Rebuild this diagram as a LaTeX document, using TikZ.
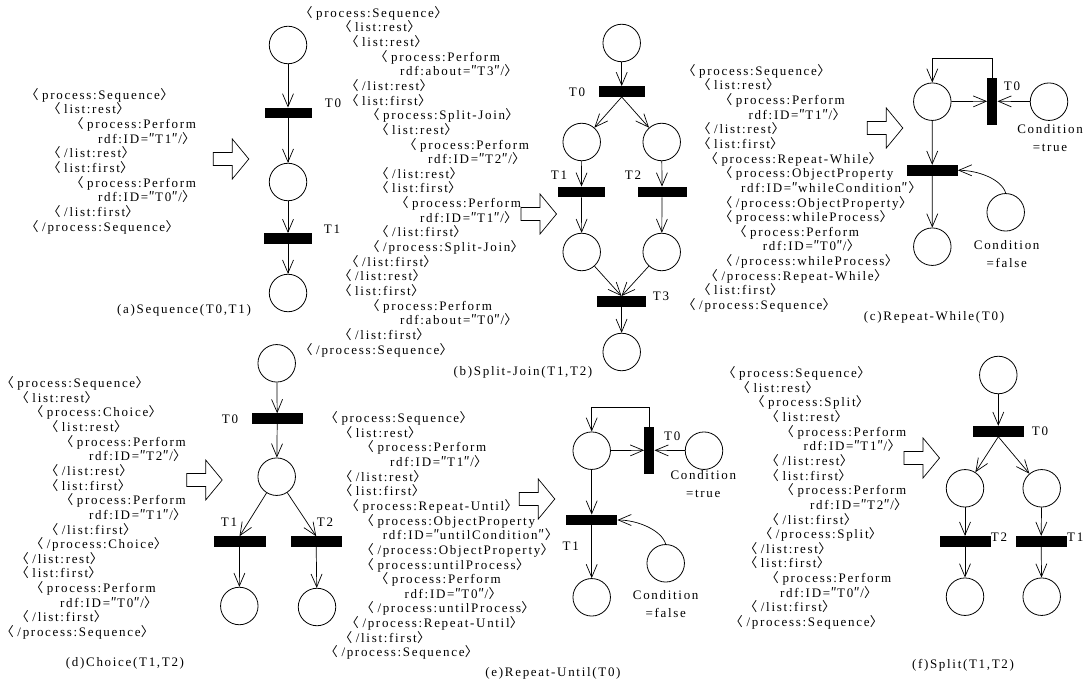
\documentclass[tikz,border=0pt]{standalone}
\usepackage{fontspec}
\setmainfont{Liberation Serif}[LetterSpace=13]
\newfontfamily\cjk{Noto Sans CJK SC}
\usetikzlibrary{arrows.meta}
\newcommand\xlt{\makebox[9pt][l]{\cjk\kern-\XeTeXglyphbounds1 \XeTeXcharglyph"3008\relax 〈}}
\newcommand\xgt{\makebox[8pt][l]{\cjk\kern-\XeTeXglyphbounds1 \XeTeXcharglyph"3009\relax\kern1pt 〉}}
\newcommand\qq{\makebox[7pt][c]{\cjk ″}}
\newcommand\ind[1]{\hspace*{#1pt}}
\newcommand\codefont{\fontsize{13}{14.65}\selectfont}
\newcommand\hollow[2]{\draw[line width=0.7pt] (#1,#2-6.5) -- ++(19,0) -- ++(0,-13.5) -- ++(16.5,20) -- ++(-16.5,20) -- ++(0,-13.5) -- ++(-19,0) -- cycle;}
\begin{document}
\begin{tikzpicture}[x=1pt,y=-1pt,
  plc/.style={circle,draw,line width=0.8pt,minimum size=37.5pt,inner sep=0pt},
  trn/.style={rectangle,fill=black,draw=none,minimum width=50pt,minimum height=10.5pt,inner sep=0pt},
  vtrn/.style={rectangle,fill=black,draw=none,minimum width=10pt,minimum height=47pt,inner sep=0pt},
  flow/.style={-{Straight Barb[length=13pt,width=11pt]},line width=0.7pt},
  lbl/.style={font=\codefont,inner sep=0pt},
  cond/.style={font=\fontsize{13}{18}\selectfont,inner sep=0pt,align=center},
  code/.style={font=\codefont,inner sep=0pt,align=left,anchor=north west}]
\useasboundingbox[fill=white] (0,0) rectangle (1084,684);

% ---------------- (a) ----------------
\node[code] (atext) at (33,88) {\xlt process:Sequence\xgt\\
\ind{22}\xlt list:rest\xgt\\
\ind{45}\xlt process:Perform\\
\ind{65}rdf:ID=\qq T1\qq/\xgt\\
\ind{22}\xlt/list:rest\xgt\\
\ind{22}\xlt list:first\xgt\\
\ind{45}\xlt process:Perform\\
\ind{65}rdf:ID=\qq T0\qq/\xgt\\
\ind{22}\xlt/list:first\xgt\\
\xlt/process:Sequence\xgt};
\hollow{213.3}{159}
\node[plc] (a1) at (288,45) {};
\node[trn,minimum width=47pt] (aT0) at (288,113) {};
\node[plc] (a2) at (288,182) {};
\node[trn,minimum width=48pt] (aT1) at (288,238.5) {};
\node[plc] (a3) at (288,293) {};
\draw[flow] (a1) -- (aT0.north);
\draw[flow] (aT0.south) -- (a2);
\draw[flow] (a2) -- (aT1.north);
\draw[flow] (aT1.south) -- (a3);
\node[lbl] (aL0) at (333,103) {T0};
\node[lbl] (aL1) at (332,229) {T1};
\node[lbl] (acap) at (184,310) {(a)Sequence(T0,T1)};

% ---------------- (b) ----------------
\node[code] (btext) at (307,6) {\xlt process:Sequence\xgt\\
\ind{39}\xlt list:rest\xgt\\
\ind{46}\xlt list:rest\xgt\\
\ind{75}\xlt process:Perform\\
\ind{93}rdf:about=\qq T3\qq/\xgt\\
\ind{46}\xlt/list:rest\xgt\\
\ind{46}\xlt list:first\xgt\\
\ind{67}\xlt process:Split-Join\xgt\\
\ind{76}\xlt list:rest\xgt\\
\ind{104}\xlt process:Perform\\
\ind{121}rdf:ID=\qq T2\qq/\xgt\\
\ind{76}\xlt/list:rest\xgt\\
\ind{76}\xlt list:first\xgt\\
\ind{96}\xlt process:Perform\\
\ind{113}rdf:ID=\qq T1\qq/\xgt\\
\ind{76}\xlt/list:first\xgt\\
\ind{67}\xlt/process:Split-Join\xgt\\
\ind{46}\xlt/list:first\xgt\\
\ind{39}\xlt/list:rest\xgt\\
\ind{39}\xlt list:first\xgt\\
\ind{67}\xlt process:Perform\\
\ind{93}rdf:about=\qq T0\qq/\xgt\\
\ind{39}\xlt/list:first\xgt\\
\xlt/process:Sequence\xgt};
\hollow{521}{214}
\node[plc] (b1) at (621.7,43) {};
\node[trn,minimum width=46pt] (bT0) at (621.7,91.5) {};
\node[plc] (b2) at (581.7,142) {};
\node[plc] (b3) at (661.7,142) {};
\node[trn,minimum width=47pt] (bT1) at (581.5,192) {};
\node[trn,minimum width=49pt] (bT2) at (662,192) {};
\node[plc] (b4) at (581.7,252) {};
\node[plc] (b5) at (661.7,252) {};
\node[trn,minimum width=49pt] (bT3) at (621.5,301.5) {};
\node[plc] (b6) at (621.7,352) {};
\draw[flow] (b1) -- (bT0.north);
\draw[flow] (bT0.south) -- (b2);
\draw[flow] (bT0.south) -- (b3);
\draw[flow] (b2) -- (bT1.north);
\draw[flow] (b3) -- (bT2.north);
\draw[flow] (bT1.south) -- (b4);
\draw[flow] (bT2.south) -- (b5);
\draw[flow] (b4) -- (bT3.north);
\draw[flow] (b5) -- (bT3.north);
\draw[flow] (bT3.south) -- (b6);
\node[lbl] (bL0) at (577,92) {T0};
\node[lbl] (bL1) at (559,175) {T1};
\node[lbl] (bL2) at (633,175) {T2};
\node[lbl] (bL3) at (661,296) {T3};
\node[lbl] (bcap) at (523,372) {(b)Split-Join(T1,T2)};

% ---------------- (c) ----------------
\node[code] (ctext) at (690,64) {\xlt process:Sequence\xgt\\
\ind{15}\xlt list:rest\xgt\\
\ind{36.7}\xlt process:Perform\\
\ind{58.3}rdf:ID=\qq T1\qq/\xgt\\
\ind{15}\xlt/list:rest\xgt\\
\ind{15}\xlt list:first\xgt\\
\ind{22.3}\xlt process:Repeat-While\xgt\\
\ind{36.7}\xlt process:ObjectProperty\\
\ind{51}rdf:ID=\qq whileCondition\qq\xgt\\
\ind{36.7}\xlt/process:ObjectProperty\xgt\\
\ind{36.7}\xlt process:whileProcess\xgt\\
\ind{51}\xlt process:Perform\\
\ind{72.7}rdf:ID=\qq T0\qq/\xgt\\
\ind{36.7}\xlt/process:whileProcess\xgt\\
\ind{22.3}\xlt/process:Repeat-While\xgt\\
\ind{15}\xlt list:first\xgt\\
\xlt/process:Sequence\xgt};
\hollow{867.3}{128}
\node[plc] (cP) at (932.3,101.7) {};
\node[vtrn] (cT0) at (992.3,101.3) {};
\node[plc] (cC1) at (1049,101.7) {};
\node[trn,minimum width=51pt] (cTu) at (932.2,170.3) {};
\node[plc] (cC2) at (1005.7,212.3) {};
\node[plc] (cP2) at (932.3,246.7) {};
\draw[flow] (cT0.north) -- ++(0,-19.4) -| (cP.north);
\draw[flow] (cP) -- (cT0.west);
\draw[flow] (cC1) -- (cT0.east);
\draw[flow] (cP.south) -- (cTu.north);
\draw[flow] (cC2.north) .. controls +(-4,-14) and +(20,0) .. (cTu.east);
\draw[flow] (cTu.south) -- (cP2);
\node[lbl] (cL0) at (1012,86) {T0};
\node[cond] (cLt) at (1050,138) {Condition\\=true};
\node[cond] (cLf) at (1006.7,254.5) {Condition\\=false};
\node[lbl] (ccap) at (934,317) {(c)Repeat-While(T0)};

% ---------------- (d) ----------------
\node[code] (dtext) at (8.3,376.3) {\xlt process:Sequence\xgt\\
\ind{15}\xlt list:rest\xgt\\
\ind{29.4}\xlt process:Choice\xgt\\
\ind{44.4}\xlt list:rest\xgt\\
\ind{59.4}\xlt process:Perform\\
\ind{80.7}rdf:ID=\qq T2\qq/\xgt\\
\ind{44.4}\xlt/list:rest\xgt\\
\ind{44.4}\xlt list:first\xgt\\
\ind{59.4}\xlt process:Perform\\
\ind{80.7}rdf:ID=\qq T1\qq/\xgt\\
\ind{44.4}\xlt/list:first\xgt\\
\ind{29.4}\xlt/process:Choice\xgt\\
\ind{15}\xlt/list:rest\xgt\\
\ind{15}\xlt list:first\xgt\\
\ind{29.4}\xlt process:Perform\\
\ind{51.7}rdf:ID=\qq T0\qq/\xgt\\
\ind{15}\xlt/list:first\xgt\\
\xlt/process:Sequence\xgt};
\hollow{186.7}{480}
\node[plc] (d1) at (276.7,363.3) {};
\node[trn,minimum width=51pt] (dT0) at (277.2,418.7) {};
\node[plc] (d2) at (276.7,476.7) {};
\node[trn,minimum width=52pt] (dT1) at (239.5,541.7) {};
\node[trn,minimum width=51pt] (dT2) at (316.2,541.7) {};
\node[plc] (d3) at (239.3,606) {};
\node[plc] (d4) at (317,607) {};
\draw[flow] (d1) -- (dT0.north);
\draw[flow] (dT0.south) -- (d2);
\draw[flow] (d2) -- (dT1.north);
\draw[flow] (d2) -- (dT2.north);
\draw[flow] (dT1.south) -- (d3);
\draw[flow] (dT2.south) -- (d4);
\node[lbl] (dL0) at (230,419) {T0};
\node[lbl] (dL1) at (229,522) {T1};
\node[lbl] (dL2) at (325,522) {T2};
\node[lbl] (dcap) at (125,663) {(d)Choice(T1,T2)};

% ---------------- (e) ----------------
\node[code] (etext) at (332.3,411.3) {\xlt process:Sequence\xgt\\
\ind{14.4}\xlt list:rest\xgt\\
\ind{36}\xlt process:Perform\\
\ind{57.7}rdf:ID=\qq T1\qq/\xgt\\
\ind{14.4}\xlt/list:rest\xgt\\
\ind{14.4}\xlt list:first\xgt\\
\ind{21}\xlt process:Repeat-Until\xgt\\
\ind{36}\xlt process:ObjectProperty\\
\ind{50.4}rdf:ID=\qq untilCondition\qq\xgt\\
\ind{36}\xlt/process:ObjectProperty\xgt\\
\ind{36}\xlt process:untilProcess\xgt\\
\ind{50.4}\xlt process:Perform\\
\ind{72}rdf:ID=\qq T0\qq/\xgt\\
\ind{36}\xlt/process:untilProcess\xgt\\
\ind{21}\xlt/process:Repeat-Until\xgt\\
\ind{14.4}\xlt/list:first\xgt\\
\xlt/process:Sequence\xgt};
\hollow{519.3}{499}
\node[plc] (eP) at (591.7,450.7) {};
\node[vtrn] (eT0) at (649.3,450.3) {};
\node[plc] (eC1) at (704,450.7) {};
\node[trn,minimum width=51pt] (eTu) at (591.7,520) {};
\node[plc] (eC2) at (665.7,563.3) {};
\node[plc] (eP2) at (591.7,597.3) {};
\draw[flow] (eT0.north) -- ++(0,-19.4) -| (eP.north);
\draw[flow] (eP) -- (eT0.west);
\draw[flow] (eC1) -- (eT0.east);
\draw[flow] (eP.south) -- (eTu.north);
\draw[flow] (eC2.north) .. controls +(-4,-14) and +(20,0) .. (eTu.east);
\draw[flow] (eTu.south) -- (eP2);
\node[lbl] (eL0) at (672.3,436) {T0};
\node[lbl] (eL1) at (570.7,546.7) {T1};
\node[cond] (eLt) at (703.3,484.5) {Condition\\=true};
\node[cond] (eLf) at (665.7,604.5) {Condition\\=false};
\node[lbl] (ecap) at (553,673) {(e)Repeat-Until(T0)};

% ---------------- (f) ----------------
\node[code] (ftext) at (730,366.3) {\xlt process:Sequence\xgt\\
\ind{14.3}\xlt list:rest\xgt\\
\ind{29}\xlt process:Split\xgt\\
\ind{43.3}\xlt list:rest\xgt\\
\ind{58.3}\xlt process:Perform\\
\ind{73.3}rdf:ID=\qq T1\qq/\xgt\\
\ind{43.3}\xlt/list:rest\xgt\\
\ind{43.3}\xlt list:first\xgt\\
\ind{58.3}\xlt process:Perform\\
\ind{80}rdf:ID=\qq T2\qq/\xgt\\
\ind{43.3}\xlt/list:first\xgt\\
\ind{36.7}\xlt/process:Split\xgt\\
\ind{21.7}\xlt/list:rest\xgt\\
\ind{21.7}\xlt list:first\xgt\\
\ind{43.3}\xlt process:Perform\\
\ind{50}rdf:ID=\qq T0\qq/\xgt\\
\ind{21.7}\xlt/list:first\xgt\\
\ind{7.3}\xlt/process:Sequence\xgt};
\hollow{904}{458}
\node[plc] (f1) at (998.3,375) {};
\node[trn,minimum width=51pt] (fT0) at (998.3,431.3) {};
\node[plc] (f2) at (965,488.3) {};
\node[plc] (f3) at (1041.7,488.3) {};
\node[trn,minimum width=51pt] (fT2) at (965,541.3) {};
\node[trn,minimum width=51pt] (fT1) at (1041.2,541.3) {};
\node[plc] (f4) at (965,596.7) {};
\node[plc] (f5) at (1041.7,596.7) {};
\draw[flow] (f1) -- (fT0.north);
\draw[flow] (fT0.south) -- (f2);
\draw[flow] (fT0.south) -- (f3);
\draw[flow] (f2) -- (fT2.north);
\draw[flow] (f3) -- (fT1.north);
\draw[flow] (fT2.south) -- (f4);
\draw[flow] (fT1.south) -- (f5);
\node[lbl] (fL0) at (1040,431.7) {T0};
\node[lbl] (fL2) at (999,537) {T2};
\node[lbl,anchor=east] (fL1) at (1083.5,537) {T1};
\node[lbl] (fcap) at (963,665) {(f)Split(T1,T2)};
\end{tikzpicture}
\end{document}
